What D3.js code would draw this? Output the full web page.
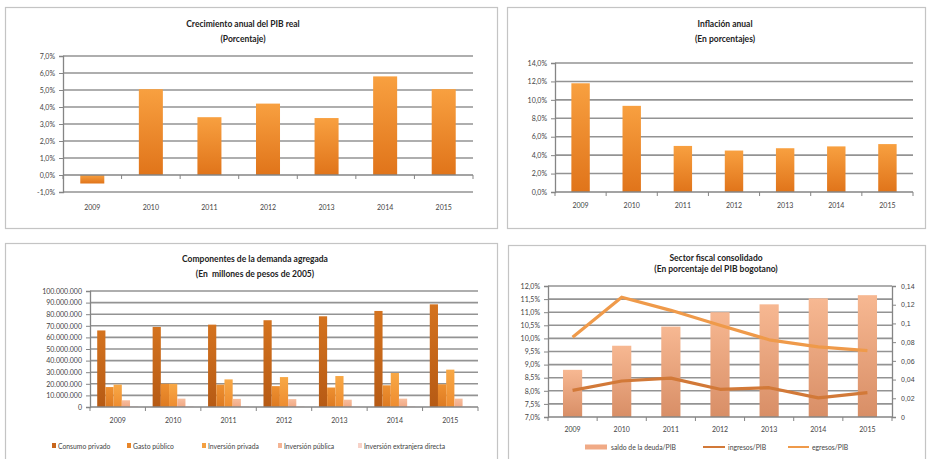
<!DOCTYPE html>
<html><head><meta charset="utf-8">
<script src="https://cdn.jsdelivr.net/npm/d3@7"></script>
<style>
html,body{margin:0;padding:0;background:#fff;}
svg{display:block;font-family:Lato,"Open Sans",sans-serif;}
</style></head>
<body>
<svg id="chart" width="927" height="459"></svg>
<script>
// ---------- DATA ----------
const years = ["2009","2010","2011","2012","2013","2014","2015"];

// Panel 1: Crecimiento anual del PIB real (%)
const gdpGrowth = [-0.5, 5.05, 3.4, 4.2, 3.35, 5.8, 5.05];
const gdpTicks = [-1, 0, 1, 2, 3, 4, 5, 6, 7];

// Panel 2: Inflación anual (%)
const inflation = [11.8, 9.35, 5.0, 4.5, 4.75, 4.95, 5.2];
const inflTicks = [0, 2, 4, 6, 8, 10, 12, 14];

// Panel 3: Componentes de la demanda agregada (millones de pesos de 2005)
const demandSeries = ["Consumo privado", "Gasto público", "Inversión privada", "Inversión pública", "Inversión extranjera directa"];
const consumoPrivado = [66000000, 69000000, 71000000, 74800000, 78200000, 82800000, 88500000];
const gastoPublico   = [17200000, 20000000, 19300000, 18000000, 16800000, 18700000, 19600000];
const inversionPrivada = [19300000, 20000000, 23800000, 25800000, 26700000, 29300000, 32200000];
const inversionPublica = [5800000, 7200000, 7000000, 6800000, 6300000, 7200000, 7200000];
const inversionExtranjera = [500000, 500000, 500000, 500000, 500000, 500000, 500000];
const demandTicks = [0,10000000,20000000,30000000,40000000,50000000,60000000,70000000,80000000,90000000,100000000];

// Panel 4: Sector fiscal consolidado (% del PIB bogotano)
const saldoDeuda = [8.8, 9.72, 10.45, 11.0, 11.3, 11.53, 11.65];
const ingresos = [0.0285, 0.0385, 0.0415, 0.0296, 0.0313, 0.0205, 0.026];
const egresos  = [0.0853, 0.128, 0.114, 0.098, 0.0825, 0.075, 0.071];
const fiscalLeftTicks = [7, 7.5, 8, 8.5, 9, 9.5, 10, 10.5, 11, 11.5, 12];
const fiscalRightTicks = [0, 0.02, 0.04, 0.06, 0.08, 0.1, 0.12, 0.14];
const fiscalLegend = ["saldo de la deuda/PIB", "ingresos/PIB", "egresos/PIB"];

// ---------- HELPERS ----------
const svg = d3.select("#chart");
const defs = svg.append("defs");
function grad(id, top, bottom){
  const g = defs.append("linearGradient").attr("id", id).attr("x1",0).attr("y1",0).attr("x2",0).attr("y2",1);
  g.append("stop").attr("offset","0%").attr("stop-color",top);
  g.append("stop").attr("offset","100%").attr("stop-color",bottom);
  return `url(#${id})`;
}
const pct1 = d => d.toFixed(1).replace(".", ",") + "%";
const locale = d3.formatLocale({decimal: ",", thousands: ".", grouping: [3], currency: ["", ""]});
const thousands = locale.format(",");
const GRID = "#939393", AXIS = "#858585", TXT = "#444";

function panelBox(x, y, w, h){
  svg.append("rect").attr("x", x+0.5).attr("y", y+0.5).attr("width", w).attr("height", h)
    .attr("fill", "#fff").attr("stroke", "#c4c4c4").attr("stroke-width", 1.2);
}
function titles(cx, y1, y2, t1, t2){
  svg.append("text").attr("x", cx).attr("y", y1).attr("text-anchor","middle")
    .attr("font-size", 8.5).attr("font-weight","bold").attr("fill","#222").text(t1);
  svg.append("text").attr("x", cx).attr("y", y2).attr("text-anchor","middle").attr("xml:space","preserve")
    .style("white-space","pre")
    .attr("font-size", 8.5).attr("font-weight","bold").attr("fill","#222").text(t2);
}
function gridlines(g, y, ticks, x0, x1){
  g.selectAll("line.grid").data(ticks).join("line").attr("class","grid")
    .attr("x1", x0).attr("x2", x1).attr("y1", d => y(d)).attr("y2", d => y(d))
    .attr("stroke", GRID).attr("stroke-width", 1.6);
}
function leftAxis(g, y, ticks, fmt, x0){
  const a = g.append("g").attr("transform", `translate(${x0},0)`)
    .call(d3.axisLeft(y).tickValues(ticks).tickFormat(fmt).tickSize(4).tickPadding(4));
  a.select(".domain").attr("stroke", AXIS).attr("stroke-width", 1.3);
  a.selectAll(".tick line").attr("stroke", AXIS);
  a.selectAll("text").attr("font-size", 7).attr("fill", TXT).attr("font-family","Lato,sans-serif");
  return a;
}
function categoryAxis(g, x, yPos, labelY, x0, x1){
  g.append("line").attr("x1", x0).attr("x2", x1).attr("y1", yPos).attr("y2", yPos)
    .attr("stroke", AXIS).attr("stroke-width", 1.4);
  const step = x.step ? x.step() : (x1-x0)/years.length;
  const bounds = d3.range(years.length + 1).map(i => x0 + i*step);
  g.selectAll("line.ctick").data(bounds).join("line").attr("class","ctick")
    .attr("x1", d => d).attr("x2", d => d).attr("y1", yPos).attr("y2", yPos + 4)
    .attr("stroke", AXIS).attr("stroke-width", 1);
  g.selectAll("text.clab").data(years).join("text").attr("class","clab")
    .attr("x", d => x0 + (years.indexOf(d) + 0.5) * step).attr("y", labelY)
    .attr("text-anchor","middle").attr("font-size", 7).attr("fill", TXT).text(d => d);
}

// ---------- PANEL 1 ----------
(function(){
  panelBox(5, 7, 492, 221);
  titles(243, 27, 42, "Crecimiento anual del PIB real", "(Porcentaje)");
  const g = svg.append("g");
  const x0 = 63, x1 = 473;
  const y = d3.scaleLinear().domain([-1, 7]).range([192, 56]);
  const x = d3.scaleBand().domain(years).range([x0, x1]).paddingInner(0.59).paddingOuter(0.295);
  gridlines(g, y, gdpTicks.filter(d => d !== 0), x0, x1);
  const fill = grad("g1", "#F8A040", "#E0741A");
  g.selectAll("rect.bar").data(gdpGrowth).join("rect").attr("class","bar")
    .attr("x", (d,i) => x(years[i])).attr("width", x.bandwidth())
    .attr("y", d => y(Math.max(0, d))).attr("height", d => Math.abs(y(d) - y(0)))
    .attr("fill", fill);
  leftAxis(g, y, gdpTicks, pct1, x0);
  const band = d3.scaleBand().domain(years).range([x0, x1]);
  categoryAxis(g, band, y(0), 210, x0, x1);
})();

// ---------- PANEL 2 ----------
(function(){
  panelBox(507, 7, 418, 221);
  titles(725, 27, 42, "Inflación anual", "(En porcentajes)");
  const g = svg.append("g");
  const x0 = 555, x1 = 913;
  const y = d3.scaleLinear().domain([0, 14]).range([192, 63]);
  const x = d3.scaleBand().domain(years).range([x0, x1]).paddingInner(0.64).paddingOuter(0.32);
  gridlines(g, y, inflTicks.filter(d => d !== 0), x0, x1);
  const fill = grad("g2", "#F8A040", "#E0741A");
  g.selectAll("rect.bar").data(inflation).join("rect").attr("class","bar")
    .attr("x", (d,i) => x(years[i])).attr("width", x.bandwidth())
    .attr("y", d => y(d)).attr("height", d => y(0) - y(d)).attr("fill", fill);
  leftAxis(g, y, inflTicks, pct1, x0);
  const band = d3.scaleBand().domain(years).range([x0, x1]);
  categoryAxis(g, band, y(0), 208, x0, x1);
})();

// ---------- PANEL 3 ----------
(function(){
  panelBox(5, 243, 492, 230);
  titles(255, 262, 277, "Componentes de la demanda agregada", "(En  millones de pesos de 2005)");
  const g = svg.append("g");
  const x0 = 90, x1 = 478;
  const y = d3.scaleLinear().domain([0, 100000000]).range([407, 291]);
  const x = d3.scaleBand().domain(years).range([x0, x1]);
  const gw = x.step() * 0.74;
  const xs = d3.scaleBand().domain(demandSeries).range([0, gw]);
  gridlines(g, y, demandTicks.filter(d => d !== 0), x0, x1);
  const values = [consumoPrivado, gastoPublico, inversionPrivada, inversionPublica, inversionExtranjera];
  const fills = [
    grad("d0", "#D4731F", "#B65A14"),
    grad("d1", "#EE9030", "#DD7A22"),
    grad("d2", "#F8A845", "#EE8C30"),
    grad("d3", "#F8BE9E", "#F0A884"),
    grad("d4", "#FAD8D0", "#F5CABE")
  ];
  const colors = ["#C8661C", "#E8862A", "#F4A040", "#F4B494", "#F7D2C8"];
  demandSeries.forEach((s, si) => {
    g.selectAll(`rect.s${si}`).data(values[si]).join("rect").attr("class", `s${si}`)
      .attr("x", (d,i) => x(years[i]) + (x.step()-gw)/2 + xs(s)).attr("width", xs.bandwidth())
      .attr("y", d => y(d)).attr("height", d => y(0) - y(d)).attr("fill", fills[si]);
  });
  leftAxis(g, y, demandTicks, d => thousands(d), x0);
  categoryAxis(g, x, y(0), 423, x0, x1);
  // legend
  const legX = [52, 127, 202, 278, 358];
  const lg = g.append("g");
  demandSeries.forEach((s, i) => {
    lg.append("rect").attr("x", legX[i]).attr("y", 443).attr("width", 4).attr("height", 5).attr("fill", colors[i]);
    lg.append("text").attr("x", legX[i] + 6).attr("y", 448.5).attr("font-size", 6.8).attr("fill", TXT).text(s);
  });
})();

// ---------- PANEL 4 ----------
(function(){
  panelBox(508, 245, 417, 228);
  titles(716, 261, 272, "Sector fiscal consolidado", "(En porcentaje del PIB bogotano)");
  const g = svg.append("g");
  const x0 = 548, x1 = 892;
  const y = d3.scaleLinear().domain([7, 12]).range([417, 286]);
  const y2 = d3.scaleLinear().domain([0, 0.14]).range([417, 286]);
  const x = d3.scaleBand().domain(years).range([x0, x1]).paddingInner(0.61).paddingOuter(0.305);
  const band = d3.scaleBand().domain(years).range([x0, x1]);
  gridlines(g, y, fiscalLeftTicks.filter(d => d !== 7), x0, x1);
  const fill = grad("f1", "#F7B892", "#D88E66");
  g.selectAll("rect.bar").data(saldoDeuda).join("rect").attr("class","bar")
    .attr("x", (d,i) => x(years[i])).attr("width", x.bandwidth())
    .attr("y", d => y(d)).attr("height", d => y(7) - y(d)).attr("fill", fill);
  const line = d3.line().x((d,i) => band(years[i]) + band.bandwidth()/2).y(d => y2(d)).curve(d3.curveLinear);
  g.append("path").datum(egresos).attr("d", line).attr("fill","none").attr("stroke","#EF9A4A").attr("stroke-width", 3.2).attr("stroke-linejoin","round");
  g.append("path").datum(ingresos).attr("d", line).attr("fill","none").attr("stroke","#D27938").attr("stroke-width", 3.2).attr("stroke-linejoin","round");
  leftAxis(g, y, fiscalLeftTicks, pct1, x0);
  const ra = g.append("g").attr("transform", `translate(${x1},0)`)
    .call(d3.axisRight(y2).tickValues(fiscalRightTicks).tickFormat(d => String(d).replace(".", ",")).tickSize(4).tickPadding(5));
  ra.select(".domain").attr("stroke", AXIS).attr("stroke-width", 1.3);
  ra.selectAll(".tick line").attr("stroke", AXIS);
  ra.selectAll("text").attr("font-size", 7).attr("fill", TXT);
  categoryAxis(g, band, y(7), 432, x0, x1);
  // legend
  const lg = g.append("g");
  lg.append("rect").attr("x", 585).attr("y", 444.5).attr("width", 22).attr("height", 5).attr("fill", "#F0AA86");
  lg.append("text").attr("x", 611).attr("y", 449.5).attr("font-size", 6.8).attr("fill", TXT).text(fiscalLegend[0]);
  lg.append("line").attr("x1", 703).attr("x2", 725).attr("y1", 447).attr("y2", 447).attr("stroke", "#D27938").attr("stroke-width", 2);
  lg.append("text").attr("x", 728).attr("y", 449.5).attr("font-size", 6.8).attr("fill", TXT).text(fiscalLegend[1]);
  lg.append("line").attr("x1", 788).attr("x2", 809).attr("y1", 447).attr("y2", 447).attr("stroke", "#EF9A4A").attr("stroke-width", 2);
  lg.append("text").attr("x", 812).attr("y", 449.5).attr("font-size", 6.8).attr("fill", TXT).text(fiscalLegend[2]);
})();
</script>
</body></html>
